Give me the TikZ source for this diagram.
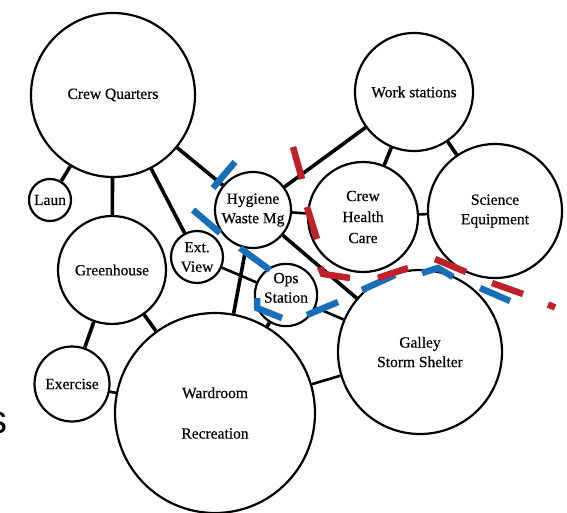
\documentclass[tikz,border=0pt]{standalone}
\usepackage{fontspec}
\setmainfont{Liberation Serif}
\newfontfamily\roomfont{Liberation Serif}[FakeBold=0.4]
\newfontfamily\sansf{Liberation Sans}
\definecolor{dblue}{RGB}{25,110,185}
\definecolor{dred}{RGB}{192,32,40}
\tikzset{
  room/.style={circle, draw, line width=2.2pt, inner sep=0pt, align=center,
    font=\roomfont\fontsize{15.5}{19.5}\selectfont},
  link/.style={line width=3.6pt},
  thinlink/.style={line width=2.6pt},
  bdash/.style={line width=6.5pt, dblue},
  rdash/.style={line width=6.5pt, dred}
}
\begin{document}
\begin{tikzpicture}[x=1pt,y=-1pt]
\useasboundingbox (0,0) rectangle (567,513);
\clip (0,0) rectangle (567,513);
% rooms
\node[room, minimum size=164pt] (cq) at (113,95) {Crew Quarters};
\node[room, minimum size=42pt] (laun) at (50,200) {Laun};
\node[room, minimum size=76pt] (hyg) at (253,210) {Hygiene\\Waste Mg};
\node[room, minimum size=52pt] (ext) at (197,257) {Ext.\\View};
\node[room, minimum size=60pt] (ops) at (286,295) {Ops\\Station\\[-5pt]\mbox{}};
\node[room, minimum size=118pt] (ws) at (414,92) {Work stations};
\node[room, minimum size=110pt, font=\roomfont\fontsize{15.5}{21}\selectfont] (chc) at (363,217) {Crew\\Health\\Care};
\node[room, minimum size=134pt] (se) at (495,211) {Science\\Equipment};
\node[room, minimum size=164pt] (gal) at (420,352) {Galley\\Storm Shelter};
\node[room, minimum size=108pt] (gh) at (112,270) {Greenhouse};
\node[room, minimum size=75pt] (ex) at (72,384) {Exercise};
\node[room, minimum size=200pt] (ward) at (215,413) {Wardroom\\[21pt]Recreation};
% connectors
\draw[link] (cq) -- (laun);
\draw[link] (cq) -- (gh);
\draw[link] (cq) -- (ext);
\draw[link] (cq) -- (hyg);
\draw[link] (hyg) -- (ws);
\draw[thinlink] (hyg) -- (chc);
\draw[link] (hyg) -- (gal);
\draw[link] (hyg) -- (ward);
\draw[link] (ws) -- (chc);
\draw[link] (ws) -- (se);
\draw[thinlink] (chc) -- (se);
\draw[link] (gh) -- (ex);
\draw[link] (gh) -- (ward);
\draw[thinlink] (ex) -- (ward);
\draw[thinlink] (ext) -- (ops);
\draw[link] (ops) -- (ward);
\draw[thinlink] (ops) -- (gal);
\draw[thinlink] (ward) -- (gal);
% blue dashed boundary
\draw[bdash] (235,162) -- (213,188);
\draw[bdash] (193,210) -- (220,233);
\draw[bdash] (240,248) -- (270,270);
\draw[bdash] (257,298) -- (257,308) -- (282,318);
\draw[bdash] (307,315) -- (338,302);
\draw[bdash] (362,290) -- (395,275);
\draw[bdash] (422,273) -- (438,268) -- (453,277);
\draw[bdash] (480,288) -- (510,301);
% red dashed boundary
\draw[rdash] (293,147) -- (302,179);
\draw[rdash] (307,207) -- (317,239);
\draw[rdash] (320,267) -- (323,274) -- (350,278);
\draw[rdash] (378,278) -- (408,268);
\draw[rdash] (435,259) -- (466,272);
\draw[rdash] (492,283) -- (523,294);
\draw[rdash] (548,304.5) -- (555,307.5);
% cut-off letter at left edge
\node[anchor=base east, inner sep=0pt, font=\sansf\fontsize{40}{40}\selectfont] (cut) at (8,433) {s};
\end{tikzpicture}
\end{document}
